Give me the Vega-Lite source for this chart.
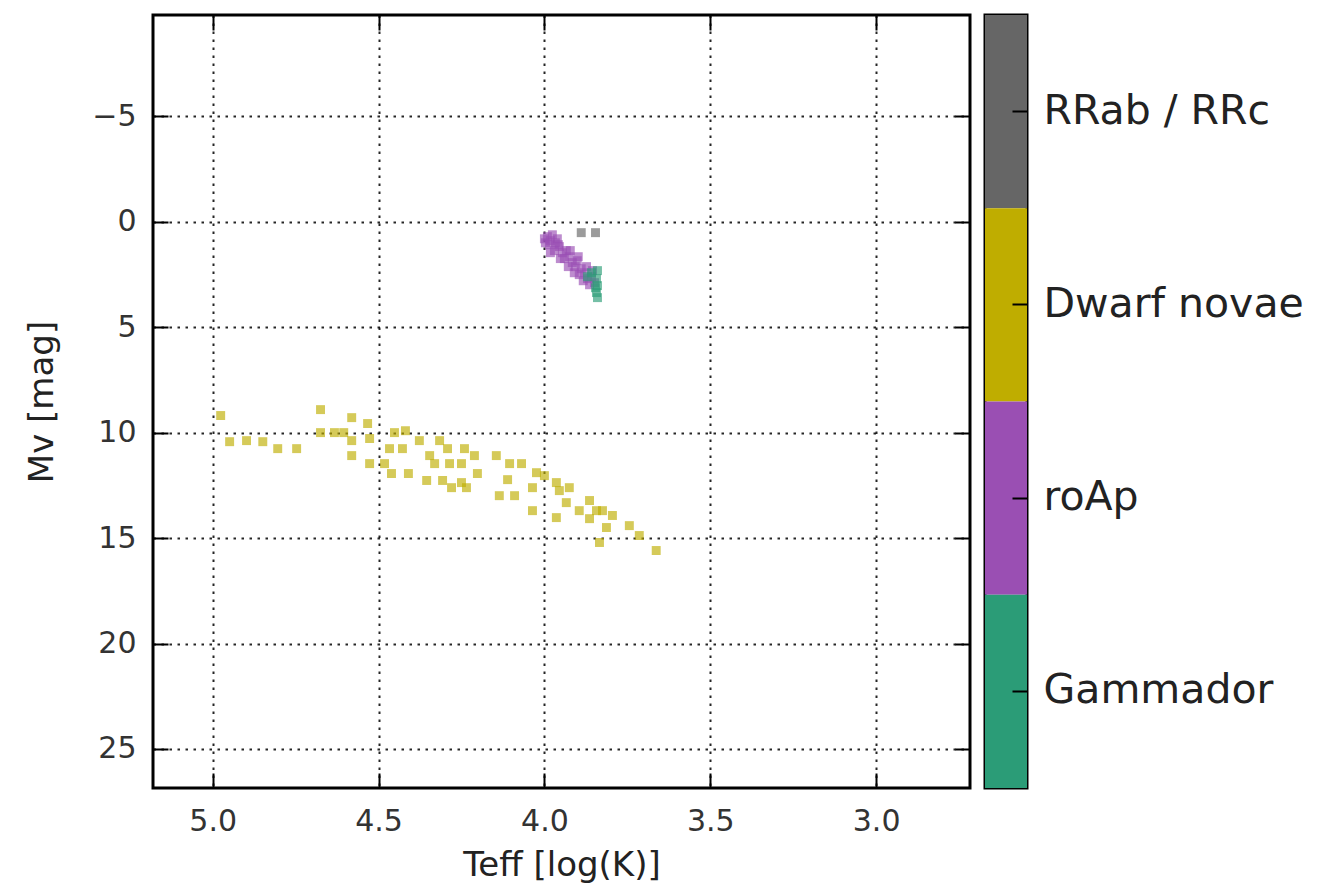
{
  "$schema": "https://vega.github.io/schema/vega-lite/v6.json",
  "background": "white",
  "padding": {"left": 24, "top": 12, "right": 5, "bottom": 5},
  "config": {
    "font": "DejaVu Sans",
    "view": {"stroke": "black", "strokeWidth": 3},
    "axis": {"labelFont": "DejaVu Sans", "titleFont": "DejaVu Sans", "labelColor": "#333333", "titleColor": "#222222", "titleFontWeight": "normal", "tickColor": "black", "tickWidth": 2}
  },
  "bounds": "flush",
  "spacing": 15,
  "datasets": {
    "stars": [
      {"teff": 4.976, "mv": 9.19, "cls": "Dwarf novae"},
      {"teff": 4.949, "mv": 10.43, "cls": "Dwarf novae"},
      {"teff": 4.898, "mv": 10.38, "cls": "Dwarf novae"},
      {"teff": 4.849, "mv": 10.43, "cls": "Dwarf novae"},
      {"teff": 4.804, "mv": 10.76, "cls": "Dwarf novae"},
      {"teff": 4.747, "mv": 10.76, "cls": "Dwarf novae"},
      {"teff": 4.675, "mv": 8.91, "cls": "Dwarf novae"},
      {"teff": 4.675, "mv": 10.0, "cls": "Dwarf novae"},
      {"teff": 4.633, "mv": 10.0, "cls": "Dwarf novae"},
      {"teff": 4.605, "mv": 10.0, "cls": "Dwarf novae"},
      {"teff": 4.581, "mv": 9.29, "cls": "Dwarf novae"},
      {"teff": 4.533, "mv": 9.57, "cls": "Dwarf novae"},
      {"teff": 4.527, "mv": 10.28, "cls": "Dwarf novae"},
      {"teff": 4.581, "mv": 10.38, "cls": "Dwarf novae"},
      {"teff": 4.581, "mv": 11.09, "cls": "Dwarf novae"},
      {"teff": 4.527, "mv": 11.47, "cls": "Dwarf novae"},
      {"teff": 4.482, "mv": 11.47, "cls": "Dwarf novae"},
      {"teff": 4.461, "mv": 11.94, "cls": "Dwarf novae"},
      {"teff": 4.410, "mv": 11.94, "cls": "Dwarf novae"},
      {"teff": 4.467, "mv": 10.76, "cls": "Dwarf novae"},
      {"teff": 4.428, "mv": 10.76, "cls": "Dwarf novae"},
      {"teff": 4.419, "mv": 9.91, "cls": "Dwarf novae"},
      {"teff": 4.452, "mv": 10.0, "cls": "Dwarf novae"},
      {"teff": 4.377, "mv": 10.38, "cls": "Dwarf novae"},
      {"teff": 4.316, "mv": 10.38, "cls": "Dwarf novae"},
      {"teff": 4.346, "mv": 11.09, "cls": "Dwarf novae"},
      {"teff": 4.331, "mv": 11.47, "cls": "Dwarf novae"},
      {"teff": 4.286, "mv": 11.47, "cls": "Dwarf novae"},
      {"teff": 4.292, "mv": 10.76, "cls": "Dwarf novae"},
      {"teff": 4.241, "mv": 10.76, "cls": "Dwarf novae"},
      {"teff": 4.355, "mv": 12.27, "cls": "Dwarf novae"},
      {"teff": 4.307, "mv": 12.27, "cls": "Dwarf novae"},
      {"teff": 4.280, "mv": 12.61, "cls": "Dwarf novae"},
      {"teff": 4.250, "mv": 12.37, "cls": "Dwarf novae"},
      {"teff": 4.211, "mv": 11.09, "cls": "Dwarf novae"},
      {"teff": 4.250, "mv": 11.47, "cls": "Dwarf novae"},
      {"teff": 4.145, "mv": 11.09, "cls": "Dwarf novae"},
      {"teff": 4.105, "mv": 11.47, "cls": "Dwarf novae"},
      {"teff": 4.069, "mv": 11.47, "cls": "Dwarf novae"},
      {"teff": 4.202, "mv": 11.94, "cls": "Dwarf novae"},
      {"teff": 4.111, "mv": 12.23, "cls": "Dwarf novae"},
      {"teff": 4.235, "mv": 12.61, "cls": "Dwarf novae"},
      {"teff": 4.136, "mv": 12.99, "cls": "Dwarf novae"},
      {"teff": 4.090, "mv": 12.99, "cls": "Dwarf novae"},
      {"teff": 4.024, "mv": 11.90, "cls": "Dwarf novae"},
      {"teff": 4.000, "mv": 12.04, "cls": "Dwarf novae"},
      {"teff": 4.036, "mv": 12.61, "cls": "Dwarf novae"},
      {"teff": 3.964, "mv": 12.37, "cls": "Dwarf novae"},
      {"teff": 3.955, "mv": 12.75, "cls": "Dwarf novae"},
      {"teff": 3.925, "mv": 12.61, "cls": "Dwarf novae"},
      {"teff": 4.036, "mv": 13.70, "cls": "Dwarf novae"},
      {"teff": 3.934, "mv": 13.32, "cls": "Dwarf novae"},
      {"teff": 3.964, "mv": 14.03, "cls": "Dwarf novae"},
      {"teff": 3.864, "mv": 13.22, "cls": "Dwarf novae"},
      {"teff": 3.895, "mv": 13.70, "cls": "Dwarf novae"},
      {"teff": 3.864, "mv": 14.08, "cls": "Dwarf novae"},
      {"teff": 3.843, "mv": 13.70, "cls": "Dwarf novae"},
      {"teff": 3.825, "mv": 13.70, "cls": "Dwarf novae"},
      {"teff": 3.795, "mv": 13.93, "cls": "Dwarf novae"},
      {"teff": 3.813, "mv": 14.50, "cls": "Dwarf novae"},
      {"teff": 3.744, "mv": 14.41, "cls": "Dwarf novae"},
      {"teff": 3.714, "mv": 14.88, "cls": "Dwarf novae"},
      {"teff": 3.834, "mv": 15.21, "cls": "Dwarf novae"},
      {"teff": 3.663, "mv": 15.59, "cls": "Dwarf novae"},
      {"teff": 3.991, "mv": 0.71, "cls": "roAp"},
      {"teff": 3.976, "mv": 0.62, "cls": "roAp"},
      {"teff": 3.985, "mv": 1.09, "cls": "roAp"},
      {"teff": 3.967, "mv": 1.00, "cls": "roAp"},
      {"teff": 3.955, "mv": 1.18, "cls": "roAp"},
      {"teff": 3.970, "mv": 1.37, "cls": "roAp"},
      {"teff": 3.946, "mv": 1.47, "cls": "roAp"},
      {"teff": 3.934, "mv": 1.37, "cls": "roAp"},
      {"teff": 3.940, "mv": 1.75, "cls": "roAp"},
      {"teff": 3.925, "mv": 1.66, "cls": "roAp"},
      {"teff": 3.916, "mv": 1.94, "cls": "roAp"},
      {"teff": 3.901, "mv": 1.85, "cls": "roAp"},
      {"teff": 3.907, "mv": 2.13, "cls": "roAp"},
      {"teff": 3.889, "mv": 2.23, "cls": "roAp"},
      {"teff": 3.880, "mv": 2.42, "cls": "roAp"},
      {"teff": 3.895, "mv": 2.51, "cls": "roAp"},
      {"teff": 3.870, "mv": 2.70, "cls": "roAp"},
      {"teff": 3.858, "mv": 2.61, "cls": "roAp"},
      {"teff": 3.864, "mv": 2.99, "cls": "roAp"},
      {"teff": 3.849, "mv": 2.89, "cls": "roAp"},
      {"teff": 3.961, "mv": 0.81, "cls": "roAp"},
      {"teff": 3.997, "mv": 1.00, "cls": "roAp"},
      {"teff": 4.000, "mv": 0.81, "cls": "roAp"},
      {"teff": 3.982, "mv": 0.90, "cls": "roAp"},
      {"teff": 3.958, "mv": 1.09, "cls": "roAp"},
      {"teff": 3.982, "mv": 1.47, "cls": "roAp"},
      {"teff": 3.922, "mv": 1.37, "cls": "roAp"},
      {"teff": 3.952, "mv": 1.75, "cls": "roAp"},
      {"teff": 3.898, "mv": 1.66, "cls": "roAp"},
      {"teff": 3.928, "mv": 2.13, "cls": "roAp"},
      {"teff": 3.873, "mv": 2.13, "cls": "roAp"},
      {"teff": 3.910, "mv": 2.42, "cls": "roAp"},
      {"teff": 3.855, "mv": 2.32, "cls": "roAp"},
      {"teff": 3.883, "mv": 2.80, "cls": "roAp"},
      {"teff": 3.858, "mv": 2.42, "cls": "Gammador"},
      {"teff": 3.840, "mv": 2.32, "cls": "Gammador"},
      {"teff": 3.843, "mv": 2.70, "cls": "Gammador"},
      {"teff": 3.840, "mv": 3.03, "cls": "Gammador"},
      {"teff": 3.843, "mv": 3.36, "cls": "Gammador"},
      {"teff": 3.840, "mv": 3.60, "cls": "Gammador"},
      {"teff": 3.870, "mv": 2.61, "cls": "Gammador"},
      {"teff": 3.846, "mv": 3.13, "cls": "Gammador"},
      {"teff": 3.889, "mv": 0.52, "cls": "RRab / RRc"},
      {"teff": 3.846, "mv": 0.52, "cls": "RRab / RRc"}
    ],
    "bar": [
      {"cls": "RRab / RRc"},
      {"cls": "Dwarf novae"},
      {"cls": "roAp"},
      {"cls": "Gammador"}
    ]
  },
  "hconcat": [
    {
      "width": 817,
      "height": 773,
      "data": {"name": "stars"},
      "layer": [
        {
          "mark": {"type": "point", "shape": "square", "filled": true, "size": 80, "opacity": 0.65, "strokeWidth": 0},
          "encoding": {
            "x": {
              "field": "teff", "type": "quantitative",
              "scale": {"domain": [2.717, 5.18], "reverse": true, "nice": false, "zero": false},
              "axis": {"title": "Teff [log(K)]", "values": [3.0, 3.5, 4.0, 4.5, 5.0], "format": ".1f", "labelFontSize": 30, "titleFontSize": 34, "offset": -15, "tickSize": 15, "labelPadding": 18, "titlePadding": 12, "domain": false, "grid": false}
            },
            "y": {
              "field": "mv", "type": "quantitative",
              "scale": {"domain": [-9.8, 26.85], "reverse": true, "nice": false, "zero": false},
              "axis": {"title": "Mv [mag]", "values": [-5, 0, 5, 10, 15, 20, 25], "labelFontSize": 30, "titleFontSize": 34, "offset": -15, "tickSize": 15, "labelPadding": 17, "titlePadding": 32, "domain": false, "grid": false}
            },
            "color": {
              "field": "cls", "type": "nominal",
              "scale": {"domain": ["RRab / RRc", "Dwarf novae", "roAp", "Gammador"], "range": ["#666666", "#bfad00", "#9a4fb3", "#2b9c77"]},
              "legend": null
            }
          }
        },
        {
          "mark": {"type": "point", "opacity": 0},
          "encoding": {
            "x": {
              "field": "teff", "type": "quantitative",
              "axis": {"orient": "top", "title": null, "labels": false, "values": [3.0, 3.5, 4.0, 4.5, 5.0], "tickSize": -15, "domain": false, "grid": true, "gridColor": "black", "gridWidth": 2, "gridDash": [2.5, 5.5], "gridOpacity": 0.85}
            },
            "y": {
              "field": "mv", "type": "quantitative",
              "axis": {"orient": "right", "title": null, "labels": false, "values": [-5, 0, 5, 10, 15, 20, 25], "tickSize": -15, "domain": false, "grid": true, "gridColor": "black", "gridWidth": 2, "gridDash": [2.5, 5.5], "gridOpacity": 0.85}
            }
          }
        }
      ],
      "resolve": {"axis": {"x": "independent", "y": "independent"}}
    },
    {
      "width": 42,
      "height": 773,
      "data": {"name": "bar"},
      "mark": {"type": "rect"},
      "encoding": {
        "y": {
          "field": "cls", "type": "nominal",
          "scale": {"domain": ["RRab / RRc", "Dwarf novae", "roAp", "Gammador"], "paddingInner": 0, "paddingOuter": 0},
          "axis": {"orient": "right", "title": null, "labelFontSize": 41, "labelColor": "#222222", "labelLimit": 400, "tickSize": -15, "labelPadding": 31, "domain": false, "grid": false}
        },
        "color": {
          "field": "cls", "type": "nominal",
          "scale": {"domain": ["RRab / RRc", "Dwarf novae", "roAp", "Gammador"], "range": ["#666666", "#bfad00", "#9a4fb3", "#2b9c77"]},
          "legend": null
        }
      }
    }
  ]
}
